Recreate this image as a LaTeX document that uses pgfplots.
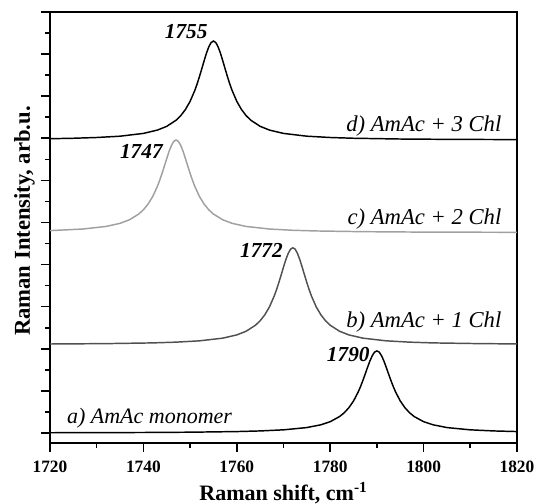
\documentclass[border=0pt]{standalone}
\usepackage{pgfplots}
\pgfplotsset{compat=1.18}
\usepackage{fontspec}
\setmainfont{Liberation Serif}

\definecolor{curveb}{RGB}{80,80,80}
\definecolor{curvec}{RGB}{160,160,160}

\begin{document}
\begin{tikzpicture}
\useasboundingbox (-37.5pt,-45.75pt) rectangle (365.25pt,332.25pt);
\begin{axis}[
    width=350.25pt, height=323.25pt,
    scale only axis,
    xmin=1720, xmax=1820,
    ymin=-0.2375, ymax=10,
    xtick={1720,1740,...,1820},
    minor x tick num=1,
    ytick={0,1,...,10},
    minor y tick num=1,
    yticklabels={},
    xtick pos=bottom, ytick pos=left,
    tick align=outside,
    major tick length=6.75pt,
    minor tick length=3.4pt,
    every tick/.style={black, line width=1.2pt},
    axis line style={line width=1.4pt},
    /pgf/number format/1000 sep={},
    /pgf/number format/assume math mode=true,
    ticklabel style={font=\fontsize{13}{13}\selectfont\bfseries},
    xticklabel style={yshift=-3.5pt},
    xlabel={Raman shift, cm\textsuperscript{-1}},
    ylabel={Raman Intensity, arb.u.},
    every axis x label/.style={at={(axis description cs:0.5,0)}, anchor=base, yshift=-43.5pt,
        font=\fontsize{16.5}{16.5}\selectfont\bfseries},
    every axis y label/.style={at={(axis description cs:0,0.515)}, rotate=90, anchor=base, yshift=15pt,
        font=\fontsize{17}{17}\selectfont\bfseries},
    clip=false,
]
% a) AmAc monomer
\addplot[black, line width=1.1pt] coordinates {
(1720,0.006)(1730,0.009)(1740,0.012)(1750,0.019)(1760,0.034)(1765,0.049)(1770,0.075)
(1775,0.129)(1778,0.195)(1780,0.269)(1782,0.39)(1783,0.48)(1784,0.601)(1785,0.761)
(1786,0.975)(1786.5,1.104)(1787,1.248)(1787.5,1.402)(1788,1.56)(1788.5,1.71)(1789,1.835)
(1789.5,1.921)(1790,1.95)(1790.5,1.921)(1791,1.835)(1791.5,1.71)(1792,1.56)(1792.5,1.402)
(1793,1.248)(1793.5,1.104)(1794,0.975)(1795,0.761)(1796,0.601)(1797,0.48)(1798,0.39)
(1800,0.269)(1802,0.195)(1805,0.129)(1810,0.075)(1815,0.049)(1820,0.034)
};
% b) AmAc + 1 Chl
\addplot[curveb, line width=1.1pt] coordinates {
(1720,2.114)(1732,2.123)(1742,2.14)(1747,2.158)(1752,2.189)(1757,2.253)(1760,2.33)
(1762,2.417)(1764,2.56)(1765,2.666)(1766,2.808)(1767,2.997)(1768,3.25)(1768.5,3.402)
(1769,3.572)(1769.5,3.754)(1770,3.94)(1770.5,4.117)(1771,4.264)(1771.5,4.366)(1772,4.40)
(1772.5,4.366)(1773,4.264)(1773.5,4.117)(1774,3.94)(1774.5,3.754)(1775,3.572)(1775.5,3.402)
(1776,3.25)(1777,2.997)(1778,2.808)(1779,2.666)(1780,2.56)(1782,2.417)(1784,2.33)
(1787,2.253)(1792,2.189)(1797,2.158)(1802,2.14)(1812,2.123)(1820,2.116)
};
% c) AmAc + 2 Chl
\addplot[curvec, line width=1.1pt] coordinates {
(1720,4.807)(1727,4.845)(1732,4.906)(1735,4.98)(1737,5.064)(1739,5.2)(1740,5.301)
(1741,5.438)(1742,5.618)(1743,5.86)(1743.5,6.005)(1744,6.168)(1744.5,6.342)(1745,6.52)
(1745.5,6.689)(1746,6.83)(1746.5,6.927)(1747,6.96)(1747.5,6.927)(1748,6.83)(1748.5,6.689)
(1749,6.52)(1749.5,6.342)(1750,6.168)(1750.5,6.005)(1751,5.86)(1752,5.618)(1753,5.438)
(1754,5.301)(1755,5.2)(1757,5.064)(1759,4.98)(1762,4.906)(1767,4.845)(1772,4.815)
(1777,4.799)(1787,4.782)(1797,4.774)(1807,4.770)(1820,4.767)
};
% d) AmAc + 3 Chl
\addplot[black, line width=1.1pt] coordinates {
(1720,6.99)(1725,7.001)(1730,7.019)(1735,7.05)(1740,7.116)(1743,7.195)(1745,7.284)
(1747,7.43)(1748,7.538)(1749,7.684)(1750,7.877)(1751,8.135)(1751.5,8.29)(1752,8.464)
(1752.5,8.65)(1753,8.84)(1753.5,9.021)(1754,9.171)(1754.5,9.275)(1755,9.31)(1755.5,9.275)
(1756,9.171)(1756.5,9.021)(1757,8.84)(1757.5,8.65)(1758,8.464)(1758.5,8.29)(1759,8.135)
(1760,7.877)(1761,7.684)(1762,7.538)(1763,7.43)(1765,7.284)(1767,7.195)(1770,7.116)
(1775,7.05)(1780,7.019)(1785,7.001)(1795,6.983)(1805,6.975)(1820,6.969)
};
% peak positions
\node[anchor=base east, inner sep=0pt, font=\fontsize{16}{16}\selectfont\bfseries\itshape] at (axis cs:1753.8,9.36) {1755};
\node[anchor=base east, inner sep=0pt, font=\fontsize{16}{16}\selectfont\bfseries\itshape] at (axis cs:1744.2,6.53) {1747};
\node[anchor=base east, inner sep=0pt, font=\fontsize{16}{16}\selectfont\bfseries\itshape] at (axis cs:1769.9,4.16) {1772};
\node[anchor=base east, inner sep=0pt, font=\fontsize{16}{16}\selectfont\bfseries\itshape] at (axis cs:1788.5,1.69) {1790};
% sample names
\node[anchor=base east, inner sep=0pt, font=\fontsize{17}{17}\selectfont\itshape] at (axis cs:1816.7,7.16) {d) AmAc + 3 Chl};
\node[anchor=base east, inner sep=0pt, font=\fontsize{17}{17}\selectfont\itshape] at (axis cs:1816.7,4.96) {c) AmAc + 2 Chl};
\node[anchor=base east, inner sep=0pt, font=\fontsize{17}{17}\selectfont\itshape] at (axis cs:1816.7,2.51) {b) AmAc + 1 Chl};
\node[anchor=base west, inner sep=0pt, font=\fontsize{16.5}{16.5}\selectfont\itshape] at (axis cs:1723.6,0.23) {a) AmAc monomer};
\end{axis}
\end{tikzpicture}
\end{document}
